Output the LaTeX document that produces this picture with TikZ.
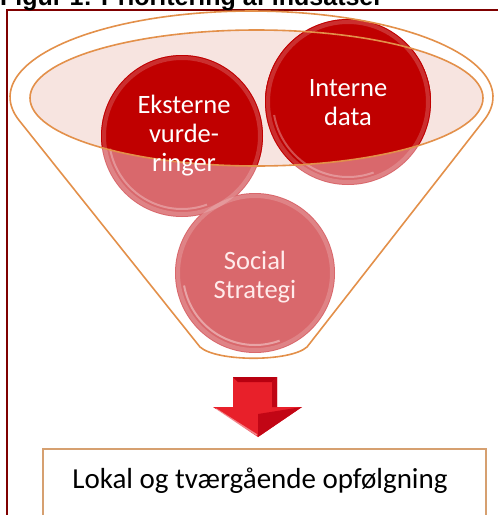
\documentclass[tikz,border=0pt]{standalone}
\usepackage{fontspec}
\setmainfont{Carlito}
\newfontfamily\titlefont{Liberation Sans}
\definecolor{framered}{HTML}{7F0000}
\definecolor{funnelorange}{HTML}{E3904A}
\definecolor{darkred}{HTML}{C00000}
\definecolor{lightred}{HTML}{D9686C}
\definecolor{pinkfill}{HTML}{F7E4E0}
\definecolor{boxorange}{HTML}{D6A070}
\definecolor{arrowred}{HTML}{E8202A}
\definecolor{arrowdark}{HTML}{B80010}
\begin{document}
\begin{tikzpicture}[x=1pt,y=-1pt,
  ctext/.style={align=center, text=white, inner sep=0pt, font=\fontsize{26.5}{29}\selectfont},
  funnelline/.style={draw=funnelorange, line width=1.6pt},
  gloss/.style={draw=white, opacity=0.18, line width=4pt}]
\useasboundingbox (0,0) rectangle (498,515);
\clip (0,0) rectangle (498,515);
% frame
\draw[framered, line width=2.4pt] (7,10) rectangle (530,560);
% title
\node[anchor=base west, inner sep=0pt, font=\titlefont\bfseries\fontsize{25}{30}\selectfont] (title) at (0,5) {Figur 1: Prioritering af indsatser};
% funnel body
\def\funnelpath{plot[domain=164.1:375.7,samples=90] ({251.5+241.5*cos(\x)},{97+86*sin(\x)}) -- (307,347) .. controls (290,362) and (217,362) .. (200,347) -- cycle}
\fill[white] \funnelpath;
\fill[pinkfill] (256.5,98) ellipse[x radius=226.5pt, y radius=68pt];
% circles, light parts
\fill[lightred] (182,136) circle[radius=81pt];
\fill[lightred] (348,102) circle[radius=83pt];
% dark parts inside the funnel mouth
\begin{scope}
  \clip (256.5,98) ellipse[x radius=226.5pt, y radius=68pt];
  \fill[darkred] (182,136) circle[radius=81pt];
  \fill[darkred] (348,102) circle[radius=83pt];
\end{scope}
\begin{scope}
  \clip (0,0) rectangle (498,98);
  \fill[darkred] (348,102) circle[radius=83pt];
\end{scope}
\fill[lightred] (255,273) circle[radius=80pt];
% gloss rims
\draw[gloss] (182,136) circle[radius=78pt];
\draw[gloss] (348,102) circle[radius=80pt];
\draw[gloss] (255,273) circle[radius=77pt];
\draw[white, opacity=0.4, line width=2pt] (255,273) ++(190:72pt) arc[start angle=190, end angle=290, radius=72pt];
\draw[white, opacity=0.3, line width=2pt] (182,136) ++(190:73pt) arc[start angle=190, end angle=290, radius=73pt];
\draw[white, opacity=0.3, line width=2pt] (348,102) ++(190:75pt) arc[start angle=190, end angle=290, radius=75pt];
% funnel lines on top
\draw[funnelline] \funnelpath;
\draw[funnelline] (256.5,98) ellipse[x radius=226.5pt, y radius=68pt];
% circle texts
\node[ctext] (ek) at (184,136) {Eksterne\\vurde-\\ringer};
\node[ctext] (in) at (348,103) {Interne\\data};
\node[ctext, text=white!92!red] (so) at (255,277) {Social\\Strategi};
% arrow
\fill[arrowred] (233,377) -- (277,377) -- (277,407) -- (302,407) -- (258,437) -- (213,407) -- (233,407) -- cycle;
\fill[arrowdark] (233,377) -- (277,377) -- (272,382) -- (238,382) -- cycle;
\fill[arrowdark!85!arrowred] (277,377) -- (277,407) -- (272,407) -- (272,382) -- cycle;
\fill[arrowdark!80!arrowred] (258,414) -- (302,407) -- (258,437) -- cycle;
\draw[white, opacity=0.45, line width=1.5pt] (216,409) -- (257,435);
% output box
\node[draw=boxorange, line width=1.8pt, fill=white, minimum width=443pt, minimum height=110pt, anchor=north west, inner sep=0pt] (box) at (42,448) {};
\node[anchor=base, inner sep=0pt, font=\fontsize{29}{34}\selectfont] (lbl) at (260,488) {Lokal og tværgående opfølgning};
\end{tikzpicture}
\end{document}
